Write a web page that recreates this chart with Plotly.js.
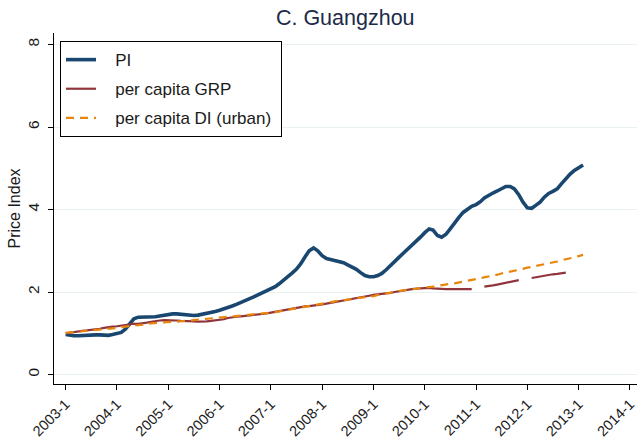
<!DOCTYPE html>
<html>
<head>
<meta charset="utf-8">
<script src="https://cdn.plot.ly/plotly-3.0.1.min.js"></script>
<style>html,body{margin:0;padding:0;background:#fff;}#chart{width:637px;height:443px;}</style>
</head>
<body>
<div id="chart"></div>
<script>
// Monthly series starting 2003-01
var startYear = 2003, startMonth = 1;
var seriesNames = ["PI", "per capita GRP", "per capita DI (urban)"];
var tickLabels = ["2003-1","2004-1","2005-1","2006-1","2007-1","2008-1","2009-1","2010-1","2011-1","2012-1","2013-1","2014-1"];
var yTicks = [0, 2, 4, 6, 8];

var piValues = [0.97,0.95,0.94,0.94,0.95,0.95,0.95,0.96,0.96,0.95,0.95,0.97,
1.00,1.02,1.10,1.22,1.35,1.39,1.39,1.39,1.40,1.40,1.42,1.44,
1.46,1.47,1.47,1.46,1.45,1.43,1.43,1.44,1.46,1.47,1.49,1.53,
1.56,1.59,1.62,1.66,1.70,1.74,1.78,1.82,1.88,1.93,1.98,2.04,
2.08,2.13,2.20,2.28,2.36,2.46,2.55,2.68,2.85,3.00,3.07,3.00,
2.88,2.81,2.79,2.77,2.75,2.71,2.66,2.61,2.55,2.47,2.40,2.37,
2.37,2.40,2.45,2.54,2.63,2.73,2.84,2.94,3.04,3.13,3.21,3.33,
3.44,3.53,3.50,3.37,3.33,3.40,3.53,3.68,3.81,3.93,4.02,4.08,
4.12,4.19,4.28,4.35,4.40,4.45,4.50,4.56,4.56,4.50,4.36,4.18,
4.04,4.03,4.10,4.18,4.30,4.39,4.44,4.50,4.63,4.76,4.86,4.95,
5.02,5.08];

var grpValues = [1.00,1.02,1.03,1.05,1.06,1.07,1.08,1.10,1.11,1.13,1.15,1.16,
1.17,1.19,1.20,1.22,1.23,1.23,1.24,1.26,1.28,1.30,1.31,1.32,
1.32,1.31,1.31,1.30,1.30,1.29,1.29,1.28,1.28,1.29,1.30,1.31,
1.32,1.34,1.37,1.39,1.40,1.41,1.42,1.43,1.44,1.45,1.46,1.48,
1.50,1.52,1.54,1.56,1.58,1.60,1.62,1.63,1.65,1.66,1.67,1.68,
1.70,1.72,1.74,1.76,1.78,1.80,1.82,1.84,1.86,1.88,1.90,1.91,
1.93,1.94,1.95,1.97,1.98,2.00,2.02,2.04,2.06,2.07,2.08,2.09,
2.10,2.10,2.09,2.08,2.07,2.07,2.07,2.07,2.07,2.07,2.07,2.07,
null,null,2.13,2.14,2.16,2.18,2.20,2.22,2.24,2.27,2.29,null,
null,2.34,2.36,2.38,2.39,2.41,2.43,2.44,2.46,2.47];

var diValues = [1.01,1.02,1.03,1.04,1.05,1.06,1.07,1.08,1.08,1.09,1.10,1.12,
1.13,1.15,1.16,1.17,1.18,1.19,1.20,1.22,1.24,1.25,1.26,1.27,
1.27,1.28,1.28,1.29,1.29,1.30,1.31,1.32,1.33,1.34,1.35,1.36,
1.38,1.39,1.39,1.40,1.41,1.42,1.43,1.44,1.45,1.46,1.47,1.48,
1.50,1.51,1.53,1.55,1.57,1.59,1.60,1.62,1.64,1.66,1.68,1.70,
1.72,1.74,1.76,1.78,1.79,1.80,1.81,1.83,1.85,1.86,1.88,1.89,
1.90,1.93,1.95,1.96,1.98,2.00,2.02,2.04,2.06,2.07,2.08,2.09,
2.10,2.11,2.13,2.15,2.17,2.19,2.20,2.21,2.23,2.25,2.27,2.29,
2.31,2.33,2.35,2.37,2.39,2.42,2.45,2.47,2.49,2.51,2.54,2.56,
2.59,2.61,2.64,2.66,2.68,2.70,2.72,2.74,2.77,2.79,2.81,2.84,
2.87,2.90];

function monthDates(n) {
  var out = [];
  for (var i = 0; i < n; i++) {
    var m = startMonth - 1 + i;
    var y = startYear + Math.floor(m / 12);
    var mm = (m % 12) + 1;
    out.push(y + "-" + (mm < 10 ? "0" + mm : mm) + "-01");
  }
  return out;
}
function tickDate(lbl) {
  var p = lbl.split("-");
  return p[0] + "-" + (p[1].length < 2 ? "0" + p[1] : p[1]) + "-01";
}

var font = "Arial, 'Liberation Sans', sans-serif";
var pad = "\u00a0\u00a0\u00a0";
var traces = [
  {x: monthDates(piValues.length), y: piValues, name: pad + seriesNames[0], type: "scatter", mode: "lines",
   line: {color: "#1a476f", width: 3.6}, legendgroup: "a"},
  {x: monthDates(grpValues.length), y: grpValues, name: pad + seriesNames[1], type: "scatter", mode: "lines",
   line: {color: "#90353b", width: 2.2}, connectgaps: false, legendgroup: "b"},
  {x: monthDates(diValues.length), y: diValues, name: pad + seriesNames[2] + "\u00a0", type: "scatter", mode: "lines",
   line: {color: "#e8850a", width: 2.2, dash: "8px,6px"}, legendgroup: "c"}
];

var layout = {
  width: 637, height: 443,
  margin: {l: 54, r: 0, t: 33, b: 59},
  paper_bgcolor: "#ffffff", plot_bgcolor: "#ffffff",
  font: {family: font, size: 15, color: "#1a1a1a"},
  title: {text: "C. Guangzhou", font: {family: font, size: 21.5, color: "#1c2b48"}, x: 0.542, xanchor: "center", y: 0.96, yanchor: "middle"},
  showlegend: true,
  legend: {x: 0.0103, y: 0.977, xanchor: "left", yanchor: "top", bordercolor: "#000", borderwidth: 1,
    bgcolor: "#fff", font: {family: font, size: 17, color: "#1a1a1a"}, tracegroupgap: 4, itemwidth: 30},
  xaxis: {
    type: "date",
    range: ["2002-10-10", "2014-02-20"],
    tickmode: "array",
    tickvals: tickLabels.map(tickDate),
    ticktext: tickLabels,
    tickangle: -45,
    ticklabeloverflow: "allow",
    ticks: "outside", ticklen: 5, tickcolor: "#000", tickwidth: 1,
    showline: true, linecolor: "#000", linewidth: 1,
    showgrid: false, zeroline: false,
    tickfont: {family: font, size: 14.5, color: "#1a1a1a"}
  },
  yaxis: {
    range: [-0.23, 8.28],
    tickmode: "array", tickvals: yTicks, ticktext: yTicks.map(String),
    tickangle: -90,
    ticks: "outside", ticklen: 5, tickcolor: "#000", tickwidth: 1,
    ticklabelstandoff: 3,
    showline: true, linecolor: "#000", linewidth: 1,
    showgrid: true, gridcolor: "#e9f1f2", gridwidth: 1, zeroline: false,
    tickfont: {family: font, size: 15.5, color: "#1a1a1a"},
    title: {text: "Price Index", font: {family: font, size: 16, color: "#1a1a1a"}, standoff: 0}
  }
};

Plotly.newPlot("chart", traces, layout, {displayModeBar: false, staticPlot: true});
</script>
</body>
</html>
